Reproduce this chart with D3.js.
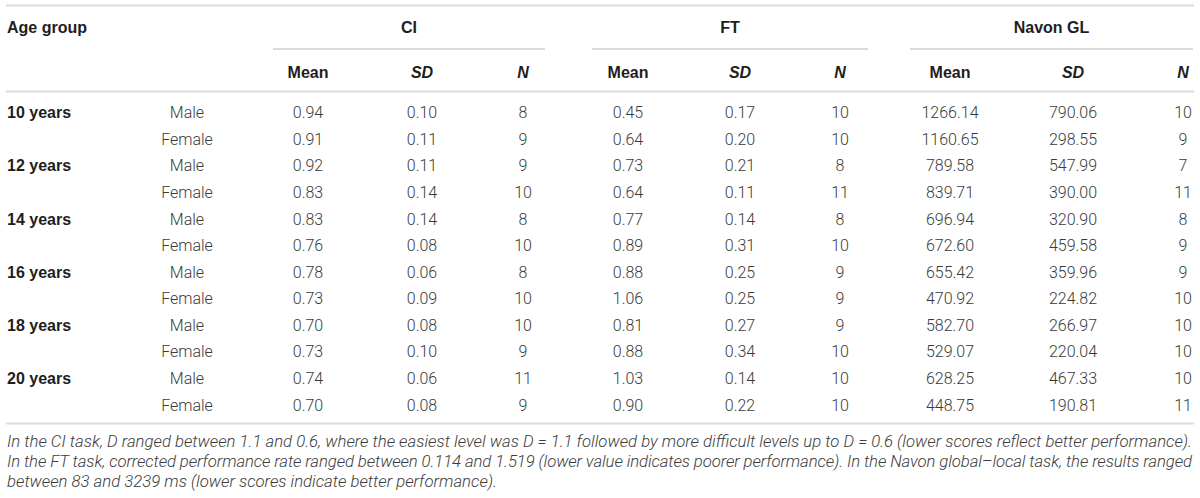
<!DOCTYPE html>
<html>
<head>
<meta charset="utf-8">
<script src="https://cdn.jsdelivr.net/npm/d3@7"></script>
<style>
  html, body { margin: 0; padding: 0; background: #fff; }
  svg { display: block; }
</style>
</head>
<body>
<svg id="chart" width="1200" height="498"></svg>
<script>
// ---------- data ----------
const ageGroups = ["10 years", "12 years", "14 years", "16 years", "18 years", "20 years"];
const sexes = ["Male", "Female"];
const tasks = ["CI", "FT", "Navon GL"];
const statLabels = ["Mean", "SD", "N"];

const ciMean = [0.94, 0.91, 0.92, 0.83, 0.83, 0.76, 0.78, 0.73, 0.70, 0.73, 0.74, 0.70];
const ciSD   = [0.10, 0.11, 0.11, 0.14, 0.14, 0.08, 0.06, 0.09, 0.08, 0.10, 0.06, 0.08];
const ciN    = [8, 9, 9, 10, 8, 10, 8, 10, 10, 9, 11, 9];

const ftMean = [0.45, 0.64, 0.73, 0.64, 0.77, 0.89, 0.88, 1.06, 0.81, 0.88, 1.03, 0.90];
const ftSD   = [0.17, 0.20, 0.21, 0.11, 0.14, 0.31, 0.25, 0.25, 0.27, 0.34, 0.14, 0.22];
const ftN    = [10, 10, 8, 11, 8, 10, 9, 9, 9, 10, 10, 10];

const navMean = [1266.14, 1160.65, 789.58, 839.71, 696.94, 672.60, 655.42, 470.92, 582.70, 529.07, 628.25, 448.75];
const navSD   = [790.06, 298.55, 547.99, 390.00, 320.90, 459.58, 359.96, 224.82, 266.97, 220.04, 467.33, 190.81];
const navN    = [10, 9, 7, 11, 8, 9, 9, 10, 10, 10, 10, 11];

const footnoteLines = [
  "In the CI task, D ranged between 1.1 and 0.6, where the easiest level was D = 1.1 followed by more difficult levels up to D = 0.6 (lower scores reflect better performance).",
  "In the FT task, corrected performance rate ranged between 0.114 and 1.519 (lower value indicates poorer performance). In the Navon global\u2013local task, the results ranged",
  "between 83 and 3239 ms (lower scores indicate better performance)."
];

// ---------- layout ----------
const colKeys = ["ciMean","ciSD","ciN","ftMean","ftSD","ftN","navMean","navSD","navN"];
const colCenters = [308, 422, 523, 628, 740, 840, 950, 1073, 1183];
const groupSpans = [[273, 545], [592, 868], [910, 1193]];
const columns = [ciMean, ciSD, ciN, ftMean, ftSD, ftN, navMean, navSD, navN];
const isCount = [false,false,true,false,false,true,false,false,true];

const svg = d3.select("#chart");
const x = d3.scaleOrdinal().domain(colKeys).range(colCenters);
const nRows = ageGroups.length * sexes.length;
const y = d3.scaleLinear().domain([0, nRows - 1]).range([112.7, 405]);

const ruleColor = "#dcdcdc";
const headColor = "#1e1e1e";
const dataColor = "#3a3a3a";
const boldFont = "'Liberation Sans', Arial, sans-serif";
const lightFont = "Roboto, 'Liberation Sans', sans-serif";
const fmt2 = d3.format(".2f");

// horizontal rules
const rules = [5.5, 91.5, 423.5];
svg.selectAll("line.rule").data(rules).join("line")
  .attr("class", "rule")
  .attr("x1", 6).attr("x2", 1194)
  .attr("y1", d => d).attr("y2", d => d)
  .attr("stroke", ruleColor).attr("stroke-width", 2);

// group underlines
svg.selectAll("line.grp").data(groupSpans).join("line")
  .attr("class", "grp")
  .attr("x1", d => d[0]).attr("x2", d => d[1])
  .attr("y1", 49).attr("y2", 49)
  .attr("stroke", "#cfcfcf").attr("stroke-width", 1.6);

// header: Age group
svg.append("text")
  .attr("x", 7).attr("y", 27).attr("dy", "0.35em")
  .attr("font-family", boldFont).attr("font-weight", "bold")
  .attr("font-size", 16).attr("fill", headColor)
  .text("Age group");

// task headers
svg.selectAll("text.task").data(tasks).join("text")
  .attr("class", "task")
  .attr("x", (d, i) => (groupSpans[i][0] + groupSpans[i][1]) / 2)
  .attr("y", 27).attr("dy", "0.35em")
  .attr("text-anchor", "middle")
  .attr("font-family", boldFont).attr("font-weight", "bold")
  .attr("font-size", 16).attr("fill", headColor)
  .text(d => d);

// stat subheaders
svg.selectAll("text.stat").data(colKeys).join("text")
  .attr("class", "stat")
  .attr("x", d => x(d))
  .attr("y", 72).attr("dy", "0.35em")
  .attr("text-anchor", "middle")
  .attr("font-family", boldFont).attr("font-weight", "bold")
  .attr("font-style", (d, i) => statLabels[i % 3] === "Mean" ? "normal" : "italic")
  .attr("font-size", 16).attr("fill", headColor)
  .text((d, i) => statLabels[i % 3]);

// age group labels
svg.selectAll("text.age").data(ageGroups).join("text")
  .attr("class", "age")
  .attr("x", 7)
  .attr("y", (d, i) => y(i * sexes.length)).attr("dy", "0.35em")
  .attr("font-family", boldFont).attr("font-weight", "bold")
  .attr("font-size", 16).attr("fill", headColor)
  .text(d => d);

// sex labels
const rowIdx = d3.range(nRows);
svg.selectAll("text.sex").data(rowIdx).join("text")
  .attr("class", "sex")
  .attr("x", 187)
  .attr("y", d => y(d)).attr("dy", "0.35em")
  .attr("text-anchor", "middle")
  .attr("font-family", lightFont).attr("font-weight", 300)
  .attr("font-size", 16).attr("fill", dataColor)
  .text(d => sexes[d % sexes.length]);

// data cells
const cells = [];
columns.forEach((col, c) => {
  col.forEach((v, r) => cells.push({ key: colKeys[c], r, v, count: isCount[c] }));
});
svg.selectAll("text.cell").data(cells).join("text")
  .attr("class", "cell")
  .attr("x", d => x(d.key))
  .attr("y", d => y(d.r)).attr("dy", "0.35em")
  .attr("text-anchor", "middle")
  .attr("font-family", lightFont).attr("font-weight", 300)
  .attr("font-size", 16).attr("fill", dataColor)
  .text(d => d.count ? String(d.v) : fmt2(d.v));

// footnote
const noteLeft = 7, noteRight = 1192;
const notes = svg.selectAll("text.note").data(footnoteLines).join("text")
  .attr("class", "note")
  .attr("x", noteLeft)
  .attr("y", (d, i) => 447 + i * 20)
  .attr("font-family", lightFont).attr("font-weight", 300)
  .attr("font-style", "italic")
  .attr("font-size", 15).attr("fill", "#3c3c3c")
  .text(d => d);

// fit font size so the first line spans the justified width
const first = notes.nodes()[0];
const w0 = first.getComputedTextLength();
const fs = 15 * (noteRight - noteLeft) / w0;
notes.attr("font-size", fs);
notes.each(function(d, i) {
  if (i < footnoteLines.length - 1) {
    d3.select(this).attr("textLength", noteRight - noteLeft).attr("lengthAdjust", "spacing");
  }
});
</script>
</body>
</html>
